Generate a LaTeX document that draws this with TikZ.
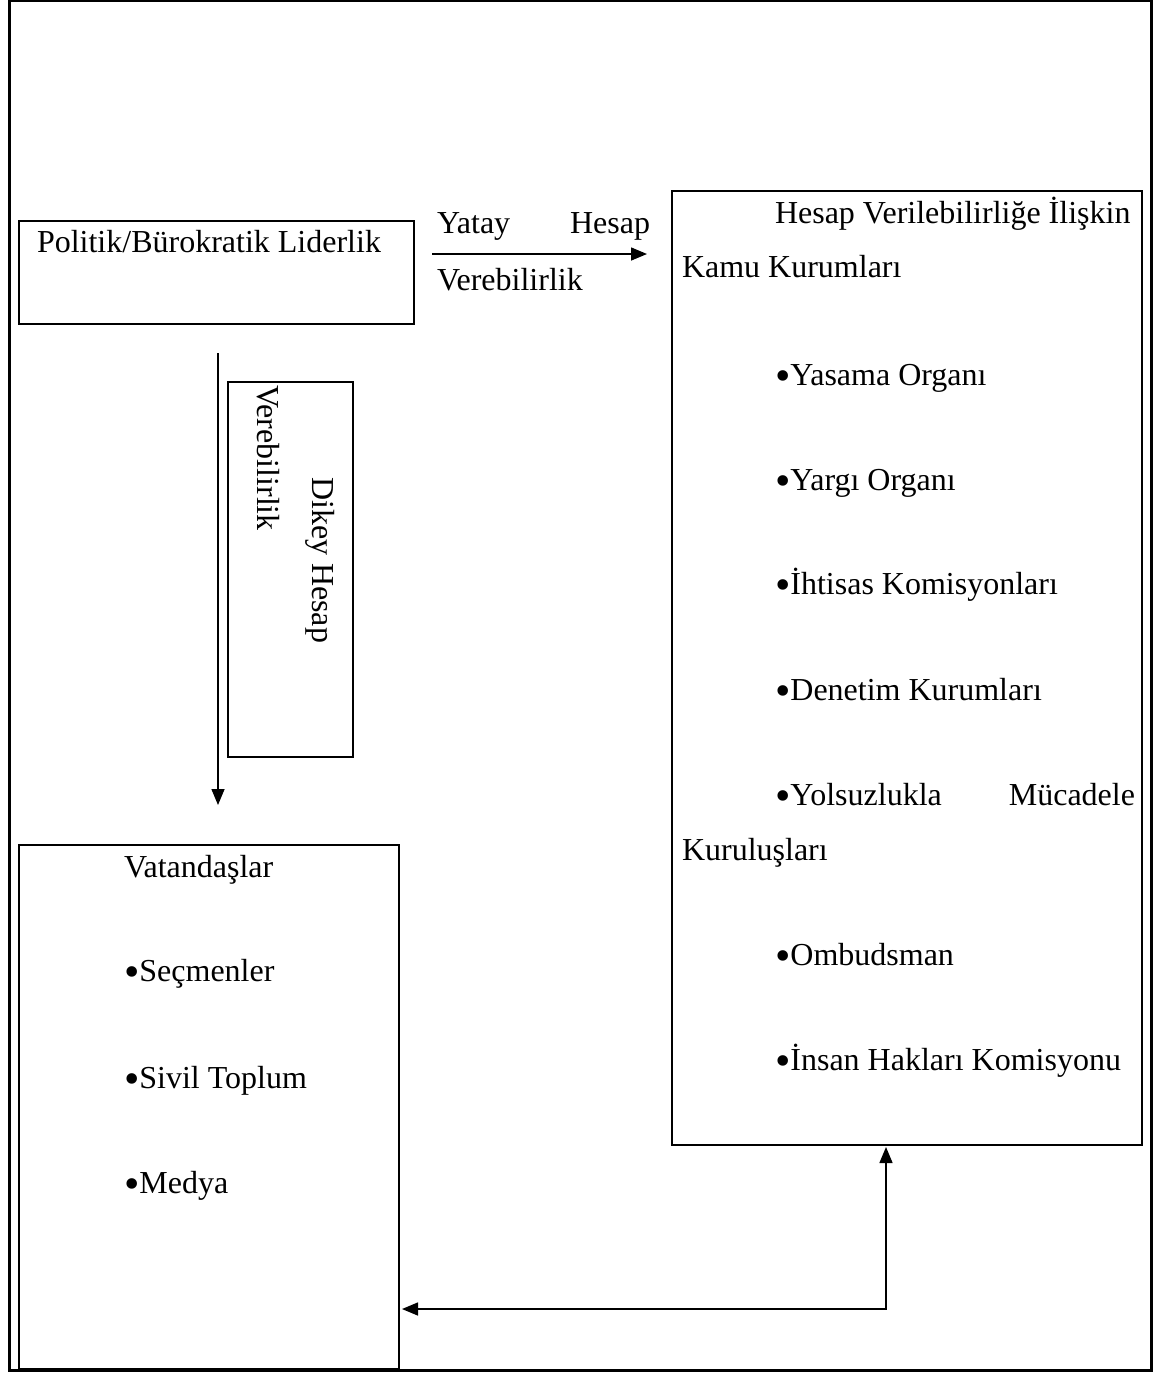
\documentclass[tikz,border=0pt]{standalone}
\usepackage{fontspec}
\setmainfont{Liberation Serif}
\usetikzlibrary{arrows.meta}
% list bullet, drawn larger than the text bullet
\newcommand\blt{\raisebox{-5pt}{\fontsize{44pt}{44pt}\selectfont •}}
\begin{document}
\begin{tikzpicture}[x=1pt,y=-1pt,
  every node/.style={font=\fontsize{32pt}{38pt}\selectfont, inner sep=0pt, outer sep=0pt},
  box/.style={draw, line width=2pt, minimum width=#1},
  txt/.style={anchor=base west},
  txtr/.style={anchor=base east},
  conn/.style={line width=1.5pt, -{Triangle[length=16pt,width=13pt]}},
  conn2/.style={line width=1.5pt, {Triangle[length=16pt,width=13pt]}-{Triangle[length=16pt,width=13pt]}}]
  % page size and outer frame
  \useasboundingbox (0,0) rectangle (1155,1374);
  \draw[line width=3pt] (9,0.5) rectangle (1151,1370);

  % boxes
  \node[box=395pt, minimum height=103pt] (lead) at (216.5,272.5) {};
  \node[box=125pt, minimum height=375pt] (vlab) at (290.5,569.5) {};
  \node[box=470pt, minimum height=954pt] (inst) at (907,668) {};
  \node[box=380pt, minimum height=524pt] (cit) at (209,1107) {};

  % leadership
  \node[txt] (leadt) at (37,252) {Politik/Bürokratik Liderlik};

  % horizontal accountability
  \coordinate (h1) at (432,254);
  \coordinate (h2) at (647,254);
  \draw[conn] (h1) -- (h2);
  \node[txt] (ya) at (437,233) {Yatay};
  \node[txtr] (yb) at (650,233) {Hesap};
  \node[txt] (yc) at (437,290) {Verebilirlik};

  % vertical accountability
  \coordinate (v1) at (218,353);
  \coordinate (v2) at (218,805);
  \draw[conn] (v1) -- (v2);
  \node[txt, rotate=-90] (da) at (312,477) {Dikey Hesap};
  \node[txt, rotate=-90] (db) at (257,385) {Verebilirlik};

  % public institutions
  \node[txt] (i0) at (775,223) {Hesap Verilebilirliğe İlişkin};
  \node[txt] (i0b) at (682,277) {Kamu Kurumları};
  \node[txt] (i1) at (775,385) {\blt Yasama Organı};
  \node[txt] (i2) at (775,490) {\blt Yargı Organı};
  \node[txt] (i3) at (775,594) {\blt İhtisas Komisyonları};
  \node[txt] (i4) at (775,700) {\blt Denetim Kurumları};
  \node[txt] (i5) at (775,805) {\blt Yolsuzlukla};
  \node[txtr] (i5b) at (1135,805) {Mücadele};
  \node[txt] (i5c) at (682,860) {Kuruluşları};
  \node[txt] (i6) at (775,965) {\blt Ombudsman};
  \node[txt] (i7) at (775,1070) {\blt İnsan Hakları Komisyonu};

  % citizens
  \node[txt] (c0) at (124,877) {Vatandaşlar};
  \node[txt] (c1) at (124,981) {\blt Seçmenler};
  \node[txt] (c2) at (124,1088) {\blt Sivil Toplum};
  \node[txt] (c3) at (124,1193) {\blt Medya};

  % link between citizens and institutions
  \coordinate (corner) at (886,1309);
  \draw[conn2] ([xshift=3pt]cit.east |- corner) -- (corner) -- ([yshift=-2pt]inst.south -| corner);
\end{tikzpicture}
\end{document}
